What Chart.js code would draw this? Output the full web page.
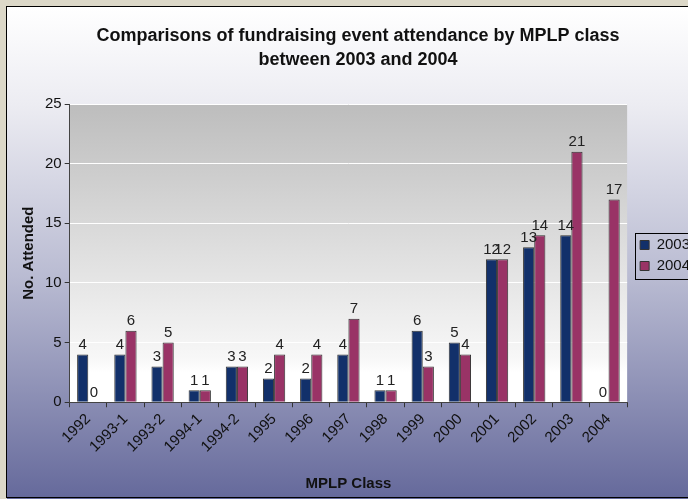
<!DOCTYPE html>
<html>
<head>
<meta charset="utf-8">
<script src="https://cdn.jsdelivr.net/npm/chart.js@4.4.0/dist/chart.umd.min.js"></script>
<style>
  html, body { margin: 0; padding: 0; background: #dcd8c8; overflow: hidden; }
  #wrap { width: 688px; height: 499px; overflow: hidden; }
</style>
</head>
<body>
<div id="wrap"><canvas id="chart" width="700" height="499"></canvas></div>
<script>
const classes = ['1992', '1993-1', '1993-2', '1994-1', '1994-2', '1995', '1996', '1997', '1998', '1999', '2000', '2001', '2002', '2003', '2004'];
const attended2003 = [4, 4, 3, 1, 3, 2, 2, 4, 1, 6, 5, 12, 13, 14, 0];
const attended2004 = [0, 6, 5, 1, 3, 4, 4, 7, 1, 3, 4, 12, 14, 21, 17];
const yTicks = [0, 5, 10, 15, 20, 25];

const FONT = '"Liberation Sans", Arial, sans-serif';

// backgrounds: beige page, gradient chart area with black border, grey plot area
const backdrop = {
  id: 'backdrop',
  beforeDraw(chart) {
    const ctx = chart.ctx;
    const w = chart.width, h = chart.height;
    ctx.save();
    ctx.fillStyle = '#dcd8c8';
    ctx.fillRect(0, 0, w, h);
    const g = ctx.createLinearGradient(0, 7, 0, h);
    g.addColorStop(0, '#ffffff');
    g.addColorStop(0.2, '#ececf2');
    g.addColorStop(0.55, '#b9bbd2');
    g.addColorStop(1, '#65699b');
    ctx.fillStyle = g;
    ctx.fillRect(7, 7, w, h);
    ctx.strokeStyle = '#000';
    ctx.lineWidth = 1;
    ctx.strokeRect(6.5, 6.5, w, h - 8);

    const a = chart.chartArea;
    const pg = ctx.createLinearGradient(0, a.top, 0, a.bottom);
    pg.addColorStop(0, '#bdbdbd');
    pg.addColorStop(0.85, '#f7f7f7');
    pg.addColorStop(0.9, '#ffffff');
    pg.addColorStop(1, '#ffffff');
    ctx.fillStyle = pg;
    ctx.fillRect(a.left, a.top, a.right - a.left, a.bottom - a.top);
    ctx.restore();
  },
  afterDraw(chart) {
    const ctx = chart.ctx;
    // value labels above bars
    ctx.save();
    ctx.font = '15px ' + FONT;
    ctx.fillStyle = '#222';
    ctx.textAlign = 'center';
    ctx.textBaseline = 'bottom';
    chart.data.datasets.forEach((ds, i) => {
      chart.getDatasetMeta(i).data.forEach((bar, j) => {
        ctx.fillText(String(ds.data[j]), bar.x, bar.y - 2);
      });
    });
    // legend frame
    const lg = chart.legend;
    if (lg && lg.legendHitBoxes.length) {
      const boxes = lg.legendHitBoxes;
      const top = boxes[0].top - 5;
      const bottom = boxes[boxes.length - 1].top + boxes[boxes.length - 1].height + 5;
      const left = boxes[0].left - 5;
      ctx.strokeStyle = '#000';
      ctx.lineWidth = 1;
      ctx.strokeRect(Math.round(left) + 0.5, Math.round(top) + 0.5, 80, Math.round(bottom - top));
    }
    ctx.restore();
  }
};

new Chart(document.getElementById('chart'), {
  type: 'bar',
  data: {
    labels: classes,
    datasets: [
      { label: '2003', data: attended2003, backgroundColor: '#12306a', borderColor: '#333', borderWidth: 1 },
      { label: '2004', data: attended2004, backgroundColor: '#993366', borderColor: '#333', borderWidth: 1 }
    ]
  },
  options: {
    responsive: false,
    animation: false,
    layout: { padding: { top: 14, left: 16, right: 0, bottom: 2 } },
    datasets: { bar: { categoryPercentage: 0.6, barPercentage: 1.0 } },
    plugins: {
      title: {
        display: true,
        text: ['Comparisons of fundraising event attendance by MPLP class', 'between 2003 and 2004'],
        font: { family: FONT, size: 18, weight: 'bold', lineHeight: 1.28 },
        color: '#111',
        padding: { top: 11, bottom: 33 }
      },
      legend: {
        position: 'right',
        labels: {
          font: { family: FONT, size: 15 },
          color: '#111',
          boxWidth: 9,
          boxHeight: 9,
          padding: 6
        }
      },
      tooltip: { enabled: false }
    },
    scales: {
      x: {
        grid: { display: true, drawOnChartArea: false, tickLength: 5, tickColor: '#333', offset: true },
        border: { display: true, color: '#444' },
        ticks: {
          font: { family: FONT, size: 15 },
          color: '#111',
          maxRotation: 45,
          minRotation: 45,
          autoSkip: false
        },
        title: {
          display: true,
          text: 'MPLP Class',
          font: { family: FONT, size: 15, weight: 'bold' },
          color: '#111',
          padding: { top: 16 }
        }
      },
      y: {
        min: 0,
        max: 25,
        afterBuildTicks(axis) { axis.ticks = yTicks.map(v => ({ value: v })); },
        grid: { color: '#ffffff', tickLength: 5, tickColor: '#333' },
        border: { display: true, color: '#444' },
        ticks: {
          font: { family: FONT, size: 15 },
          color: '#111',
          padding: 3
        },
        title: {
          display: true,
          text: 'No. Attended',
          font: { family: FONT, size: 15, weight: 'bold' },
          color: '#111',
          padding: { bottom: 4 }
        }
      },
      // empty spacer between plot and legend
      gap: {
        type: 'linear',
        position: 'right',
        display: true,
        grid: { display: false },
        border: { display: false },
        ticks: { display: false },
        afterFit(scale) { scale.width = 7; }
      }
    }
  },
  plugins: [backdrop]
});
</script>
</body>
</html>
